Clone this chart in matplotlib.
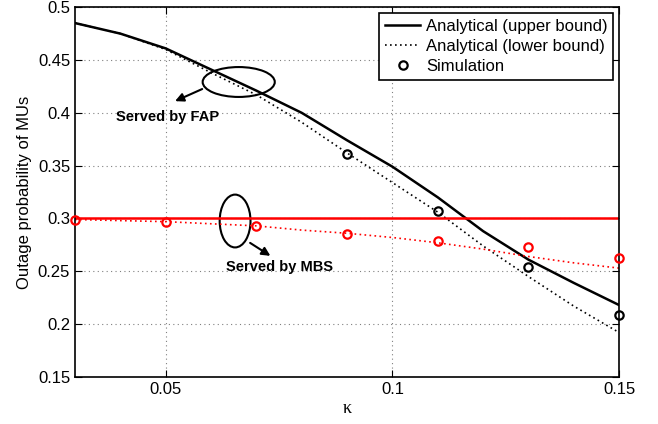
import numpy as np
import matplotlib.pyplot as plt
from matplotlib.patches import Ellipse

plt.rcParams['font.family'] = ['Liberation Sans', 'DejaVu Sans']

# analytical curves, kappa = 0.03 ... 0.15
kappa = [0.03, 0.04, 0.05, 0.06, 0.07, 0.08, 0.09, 0.10, 0.11, 0.12, 0.13, 0.14, 0.15]
fap_upper = [0.485, 0.475, 0.461, 0.441, 0.421, 0.400, 0.374, 0.349, 0.320, 0.288, 0.261, 0.239, 0.218]
fap_lower = [0.485, 0.475, 0.460, 0.438, 0.417, 0.391, 0.362, 0.334, 0.306, 0.274, 0.245, 0.217, 0.192]
mbs_upper = [0.300] * len(kappa)
mbs_lower = [0.299, 0.298, 0.297, 0.295, 0.293, 0.289, 0.286, 0.282, 0.277, 0.271, 0.264, 0.258, 0.253]

# simulation points
kappa_sim_fap = [0.09, 0.11, 0.13, 0.15]
fap_sim = [0.361, 0.307, 0.254, 0.209]
kappa_sim_mbs = [0.03, 0.05, 0.07, 0.09, 0.11, 0.13, 0.15]
mbs_sim = [0.299, 0.297, 0.293, 0.285, 0.279, 0.273, 0.263]

fig = plt.figure(figsize=(6.58, 4.24), dpi=100)
ax = fig.add_axes([0.114, 0.111, 0.827, 0.872])

dot = (0, (1, 2.0))
ax.plot(kappa, fap_upper, color='black', lw=1.8, label='Analytical (upper bound)')
ax.plot(kappa, fap_lower, color='black', lw=1.2, linestyle=dot, label='Analytical (lower bound)')
ax.plot(kappa_sim_fap, fap_sim, 'o', mfc='none', mec='black', ms=6, mew=1.6,
        clip_on=False, zorder=4, label='Simulation')

ax.plot(kappa, mbs_upper, color='red', lw=1.8)
ax.plot(kappa, mbs_lower, color='red', lw=1.2, linestyle=dot)
ax.plot(kappa_sim_mbs, mbs_sim, 'o', mfc='none', mec='red', ms=6, mew=1.6,
        clip_on=False, zorder=4)

# ellipses and notes
ax.add_patch(Ellipse((0.0661, 0.4292), 0.0159, 0.0283, fill=False, ec='black', lw=1.5))
ax.add_patch(Ellipse((0.0653, 0.2976), 0.0068, 0.050, fill=False, ec='black', lw=1.5))
ax.annotate('', xy=(0.0515, 0.410), xytext=(0.0586, 0.4236),
            arrowprops=dict(arrowstyle='-|>,head_length=0.5,head_width=0.25', color='black', lw=1.5))
ax.annotate('', xy=(0.0736, 0.2632), xytext=(0.0681, 0.2783),
            arrowprops=dict(arrowstyle='-|>,head_length=0.5,head_width=0.25', color='black', lw=1.5))
ax.text(0.0504, 0.396, 'Served by FAP', fontsize=10.5, fontweight='bold', ha='center', va='center')
ax.text(0.0752, 0.2538, 'Served by MBS', fontsize=10.5, fontweight='bold', ha='center', va='center')

ax.set_xlim(0.03, 0.15)
ax.set_ylim(0.15, 0.5)
ax.set_xticks([0.05, 0.1, 0.15])
ax.set_xticklabels(['0.05', '0.1', '0.15'])
yt = [0.15, 0.2, 0.25, 0.3, 0.35, 0.4, 0.45, 0.5]
ax.set_yticks(yt)
ax.set_yticklabels(['0.15', '0.2', '0.25', '0.3', '0.35', '0.4', '0.45', '0.5'])
ax.tick_params(direction='in', top=True, right=True, labelsize=12, length=5, width=0.8)
ax.grid(True, linestyle=(0, (1, 3)), color='gray', lw=0.8)
for s in ax.spines.values():
    s.set_linewidth(1.2)

ax.set_xlabel('κ', fontsize=13, labelpad=2, family=['Liberation Serif', 'DejaVu Serif'])
ax.set_ylabel('Outage probability of MUs', fontsize=12, labelpad=4)

leg = ax.legend(loc='upper right', fontsize=12, fancybox=False, edgecolor='black',
                framealpha=1, borderaxespad=0.35, labelspacing=0.3, handlelength=2.1,
                handletextpad=0.35, borderpad=0.35)
leg.get_frame().set_linewidth(1.2)

plt.savefig('out.png', dpi=100)
